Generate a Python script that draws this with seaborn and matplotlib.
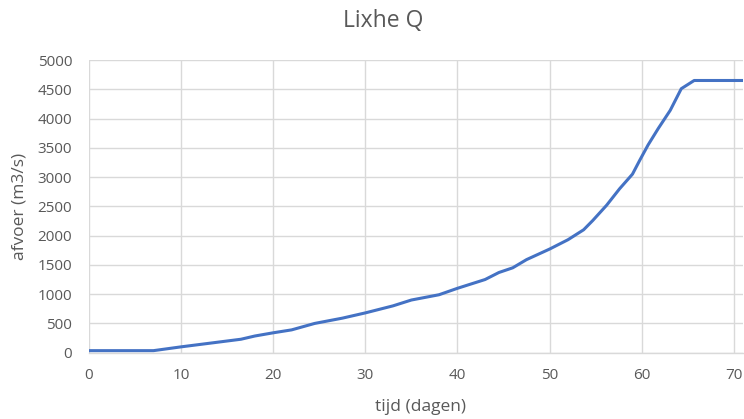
import matplotlib
matplotlib.use("Agg")
import matplotlib.pyplot as plt
import seaborn as sns
import pandas as pd

days = [0, 7, 10, 13.5, 16.5, 18, 20, 22, 24.5, 27.5, 30, 33, 35, 38, 40, 43, 44.5,
        46, 47.5, 50, 52, 53.7, 54.7, 56.2, 57.6, 59, 59.8, 60.7, 61.8, 63.1, 64.3,
        65.7, 71.5]
discharge = [35, 35, 100, 170, 230, 285, 340, 390, 500, 590, 680, 800, 900, 990,
             1100, 1250, 1370, 1450, 1590, 1770, 1930, 2100, 2260, 2520, 2800, 3050,
             3290, 3550, 3830, 4140, 4510, 4650, 4650]
x_ticks = [0, 10, 20, 30, 40, 50, 60, 70]
y_ticks = [0, 500, 1000, 1500, 2000, 2500, 3000, 3500, 4000, 4500, 5000]

title = "Lixhe Q"
x_label = "tijd (dagen)"
y_label = "afvoer (m3/s)"

df = pd.DataFrame({"tijd": days, "afvoer": discharge})

sns.set_theme(style="white")
plt.rcParams["font.family"] = ["Open Sans", "DejaVu Sans"]

text_col = "#595959"
grid_col = "#d9d9d9"

fig = plt.figure(figsize=(7.44, 4.19), dpi=100)
ax = fig.add_axes([89 / 744, (419 - 352.7) / 419, (743 - 89) / 744, (352.7 - 60) / 419])

sns.lineplot(data=df, x="tijd", y="afvoer", ax=ax, color="#4472C4", linewidth=2.2)

ax.set_xlim(0, 71)
ax.set_ylim(0, 5000)
ax.set_xticks(x_ticks)
ax.set_yticks(y_ticks)
ax.grid(True, color=grid_col, linewidth=1)
ax.set_axisbelow(True)
for s in ["top", "right", "left"]:
    ax.spines[s].set_visible(False)
ax.spines["bottom"].set_color(grid_col)
ax.spines["bottom"].set_linewidth(1)
ax.tick_params(axis="both", length=0, labelsize=11, labelcolor=text_col)
ax.tick_params(axis="x", pad=11)
ax.tick_params(axis="y", pad=12)

ax.set_xlabel("")
ax.set_ylabel("")
fig.text(420 / 744, 1 - 407 / 419, x_label, ha="center", va="center", fontsize=12.5, color=text_col)
fig.text(20 / 744, 1 - 206 / 419, y_label, ha="center", va="center", rotation=90, fontsize=12.5, color=text_col)
fig.text(383 / 744, 1 - 21 / 419, title, ha="center", va="center", fontsize=16.5, color=text_col)

fig.savefig("out.png", dpi=100)
